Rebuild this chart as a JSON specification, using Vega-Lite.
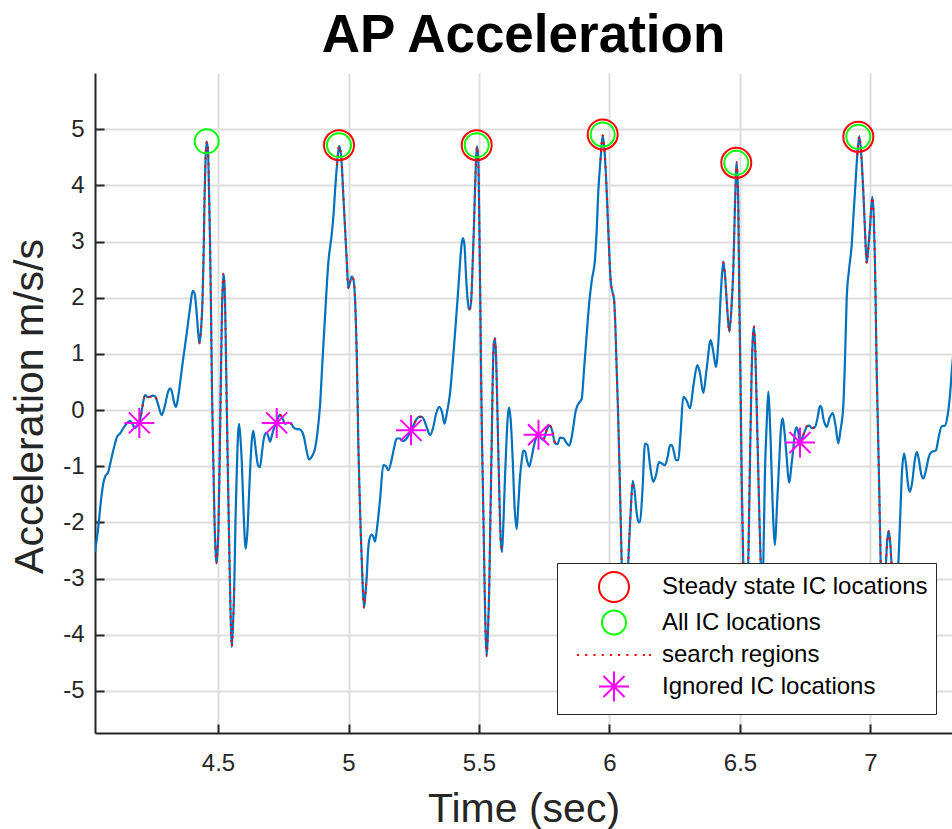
{
"$schema":"https://vega.github.io/schema/vega-lite/v6.json",
"width":857,"height":660,
"autosize":{"type":"none"},
"padding":{"left":95,"top":73,"right":0,"bottom":96},
"background":"white",
"title":{"text":"AP Acceleration","font":"Liberation Sans","fontSize":53,"fontWeight":"bold","color":"#000000","anchor":"middle","baseline":"alphabetic","offset":10,"dy":42},
"datasets":{
"signal":[
{"t":4.0287,"a":-2.525},{"t":4.0414,"a":-2.080},{"t":4.0517,"a":-1.605},{"t":4.0605,"a":-1.308},{"t":4.0670,"a":-1.190},{"t":4.0797,"a":-1.101},{"t":4.0900,"a":-0.893},{"t":4.1054,"a":-0.596},{"t":4.1130,"a":-0.478},{"t":4.1245,"a":-0.417},{"t":4.1398,"a":-0.305},{"t":4.1502,"a":-0.239},{"t":4.1628,"a":-0.193},{"t":4.1743,"a":-0.270},{"t":4.1820,"a":-0.323},{"t":4.1916,"a":-0.270},
{"t":4.1985,"a":-0.215,"s":"a1"},{"t":4.2050,"a":-0.092,"s":"a1"},{"t":4.2126,"a":0.122,"s":"a1"},{"t":4.2203,"a":0.264,"s":"a1"},{"t":4.2318,"a":0.229,"s":"a1"},{"t":4.2395,"a":0.234,"s":"a1"},{"t":4.2510,"a":0.255,"s":"a1"},{"t":4.2586,"a":0.247,"s":"a1"},{"t":4.2701,"a":0.104,"s":"a1"},
{"t":4.2843,"a":-0.092},{"t":4.2969,"a":0.086},{"t":4.3084,"a":0.318},{"t":4.3161,"a":0.384},{"t":4.3238,"a":0.318},{"t":4.3314,"a":0.140},{"t":4.3391,"a":0.056},{"t":4.3467,"a":0.211},{"t":4.3544,"a":0.473},{"t":4.3659,"a":0.887},{"t":4.3801,"a":1.363},{"t":4.3927,"a":1.813},{"t":4.4031,"a":2.121},{"t":4.4100,"a":2.080},{"t":4.4157,"a":1.867},{"t":4.4234,"a":1.422},
{"t":4.4284,"a":1.185,"s":"b1"},{"t":4.4349,"a":1.422,"s":"b1"},{"t":4.4406,"a":1.956,"s":"b1"},{"t":4.4444,"a":2.668,"s":"b1"},{"t":4.4483,"a":3.736,"s":"b1"},{"t":4.4521,"a":4.448,"s":"b1"},{"t":4.4567,"a":4.779,"s":"b1"},{"t":4.4617,"a":4.626,"s":"b1"},{"t":4.4655,"a":3.914,"s":"b1"},{"t":4.4693,"a":3.024,"s":"b1"},{"t":4.4732,"a":1.778,"s":"b1"},{"t":4.4770,"a":0.353,"s":"b1"},{"t":4.4820,"a":-0.893,"s":"b1"},{"t":4.4866,"a":-1.961,"s":"b1"},{"t":4.4904,"a":-2.495,"s":"b1"},{"t":4.4935,"a":-2.727,"s":"b1"},{"t":4.4973,"a":-2.584,"s":"b1"},{"t":4.5019,"a":-2.050,"s":"b1"},{"t":4.5057,"a":-1.071,"s":"b1"},{"t":4.5115,"a":0.709,"s":"b1"},{"t":4.5153,"a":1.778,"s":"b1"},{"t":4.5203,"a":2.426,"s":"b1"},{"t":4.5238,"a":2.312,"s":"b1"},{"t":4.5276,"a":1.778,"s":"b1"},{"t":4.5326,"a":0.353,"s":"b1"},{"t":4.5383,"a":-1.249,"s":"b1"},{"t":4.5433,"a":-2.495,"s":"b1"},{"t":4.5479,"a":-3.563,"s":"b1"},{"t":4.5525,"a":-4.218,"s":"b1"},{"t":4.5575,"a":-3.830,"s":"b1"},{"t":4.5625,"a":-3.100,"s":"b1"},
{"t":4.5670,"a":-1.961},{"t":4.5716,"a":-1.160},{"t":4.5766,"a":-0.448},{"t":4.5805,"a":-0.245},{"t":4.5851,"a":-0.448},{"t":4.5908,"a":-0.880},{"t":4.5977,"a":-1.783},{"t":4.6061,"a":-2.470},{"t":4.6130,"a":-2.139},{"t":4.6188,"a":-1.516},{"t":4.6245,"a":-0.928},{"t":4.6303,"a":-0.501},{"t":4.6352,"a":-0.371},{"t":4.6418,"a":-0.590},{"t":4.6475,"a":-0.822},{"t":4.6533,"a":-0.982},{"t":4.6609,"a":-1.017},{"t":4.6686,"a":-0.750},{"t":4.6736,"a":-0.562},{"t":4.6801,"a":-0.430},{"t":4.6866,"a":-0.403},{"t":4.6935,"a":-0.483},{"t":4.6992,"a":-0.562},{"t":4.7069,"a":-0.448},{"t":4.7157,"a":-0.305},
{"t":4.7249,"a":-0.216,"s":"a2"},{"t":4.7299,"a":-0.145,"s":"a2"},{"t":4.7375,"a":-0.085,"s":"a2"},{"t":4.7471,"a":-0.145,"s":"a2"},{"t":4.7567,"a":-0.245,"s":"a2"},{"t":4.7682,"a":-0.225,"s":"a2"},{"t":4.7824,"a":-0.252,"s":"a2"},{"t":4.7885,"a":-0.305,"s":"a2"},
{"t":4.8015,"a":-0.339},{"t":4.8103,"a":-0.341},{"t":4.8207,"a":-0.377},{"t":4.8295,"a":-0.483},{"t":4.8391,"a":-0.715},{"t":4.8487,"a":-0.880},{"t":4.8602,"a":-0.822},{"t":4.8716,"a":-0.690},{"t":4.8812,"a":-0.394},{"t":4.8908,"a":0.074},{"t":4.9004,"a":0.887},{"t":4.9100,"a":1.664},{"t":4.9226,"a":2.616},{"t":4.9356,"a":3.125},{"t":4.9425,"a":3.469},{"t":4.9483,"a":3.889},
{"t":4.9559,"a":4.359,"s":"b2"},{"t":4.9636,"a":4.700,"s":"b2"},{"t":4.9686,"a":4.626,"s":"b2"},{"t":4.9739,"a":4.396,"s":"b2"},{"t":4.9801,"a":3.825,"s":"b2"},{"t":4.9866,"a":3.255,"s":"b2"},{"t":4.9931,"a":2.668,"s":"b2"},{"t":4.9992,"a":2.171,"s":"b2"},{"t":5.0057,"a":2.276,"s":"b2"},{"t":5.0123,"a":2.376,"s":"b2"},{"t":5.0172,"a":2.347,"s":"b2"},{"t":5.0222,"a":2.205,"s":"b2"},{"t":5.0268,"a":1.778,"s":"b2"},{"t":5.0314,"a":1.030,"s":"b2"},{"t":5.0345,"a":0.264,"s":"b2"},{"t":5.0375,"a":-0.562,"s":"b2"},{"t":5.0421,"a":-1.427,"s":"b2"},{"t":5.0467,"a":-2.151,"s":"b2"},{"t":5.0529,"a":-2.940,"s":"b2"},{"t":5.0594,"a":-3.519,"s":"b2"},{"t":5.0644,"a":-3.296,"s":"b2"},{"t":5.0697,"a":-2.976,"s":"b2"},
{"t":5.0747,"a":-2.531},{"t":5.0797,"a":-2.310},{"t":5.0889,"a":-2.216},{"t":5.0958,"a":-2.264},{"t":5.1015,"a":-2.342},{"t":5.1092,"a":-2.103},{"t":5.1207,"a":-1.605},{"t":5.1333,"a":-0.982},{"t":5.1437,"a":-1.000},{"t":5.1525,"a":-1.071},{"t":5.1648,"a":-0.893},{"t":5.1743,"a":-0.679},{"t":5.1847,"a":-0.507},{"t":5.1973,"a":-0.507},{"t":5.2088,"a":-0.555},{"t":5.2165,"a":-0.537},{"t":5.2261,"a":-0.483},
{"t":5.2395,"a":-0.360,"s":"a3"},{"t":5.2471,"a":-0.288,"s":"a3"},{"t":5.2586,"a":-0.181,"s":"a3"},{"t":5.2701,"a":-0.122,"s":"a3"},{"t":5.2805,"a":-0.122,"s":"a3"},{"t":5.2893,"a":-0.172,"s":"a3"},
{"t":5.3008,"a":-0.323},{"t":5.3123,"a":-0.448},{"t":5.3238,"a":-0.323},{"t":5.3352,"a":-0.074},{"t":5.3479,"a":0.056},{"t":5.3582,"a":-0.038},{"t":5.3678,"a":-0.243},{"t":5.3774,"a":-0.038},{"t":5.3889,"a":0.295},{"t":5.3985,"a":0.798},{"t":5.4080,"a":1.363},{"t":5.4176,"a":1.956},{"t":5.4272,"a":2.609},{"t":5.4330,"a":2.935},{"t":5.4387,"a":3.059},{"t":5.4444,"a":2.935},{"t":5.4502,"a":2.401},{"t":5.4559,"a":1.991},{"t":5.4617,"a":1.795},
{"t":5.4655,"a":1.790,"s":"b3"},{"t":5.4713,"a":2.045,"s":"b3"},{"t":5.4759,"a":2.632,"s":"b3"},{"t":5.4801,"a":3.202,"s":"b3"},{"t":5.4847,"a":3.914,"s":"b3"},{"t":5.4885,"a":4.448,"s":"b3"},{"t":5.4923,"a":4.700,"s":"b3"},{"t":5.4973,"a":4.448,"s":"b3"},{"t":5.5011,"a":3.380,"s":"b3"},{"t":5.5050,"a":1.956,"s":"b3"},{"t":5.5084,"a":0.531,"s":"b3"},{"t":5.5115,"a":-0.537,"s":"b3"},{"t":5.5165,"a":-1.783,"s":"b3"},{"t":5.5211,"a":-3.029,"s":"b3"},{"t":5.5249,"a":-3.919,"s":"b3"},{"t":5.5295,"a":-4.377,"s":"b3"},{"t":5.5345,"a":-3.919,"s":"b3"},{"t":5.5395,"a":-3.100,"s":"b3"},{"t":5.5441,"a":-1.783,"s":"b3"},{"t":5.5487,"a":-0.555,"s":"b3"},{"t":5.5525,"a":0.531,"s":"b3"},{"t":5.5563,"a":1.155,"s":"b3"},{"t":5.5613,"a":1.281,"s":"b3"},{"t":5.5659,"a":0.887,"s":"b3"},{"t":5.5701,"a":0.074,"s":"b3"},{"t":5.5747,"a":-0.893,"s":"b3"},{"t":5.5785,"a":-1.605,"s":"b3"},{"t":5.5831,"a":-2.317,"s":"b3"},{"t":5.5881,"a":-2.531,"s":"b3"},
{"t":5.5939,"a":-1.961},{"t":5.5996,"a":-1.195},{"t":5.6054,"a":-0.537},{"t":5.6111,"a":-0.074},{"t":5.6161,"a":0.042},{"t":5.6215,"a":-0.181},{"t":5.6291,"a":-0.880},{"t":5.6360,"a":-1.694},{"t":5.6444,"a":-2.119},{"t":5.6506,"a":-1.694},{"t":5.6571,"a":-1.195},{"t":5.6648,"a":-0.857},{"t":5.6697,"a":-0.722},{"t":5.6762,"a":-0.733},{"t":5.6839,"a":-0.893},{"t":5.6927,"a":-1.007},{"t":5.7011,"a":-0.857},{"t":5.7080,"a":-0.690},{"t":5.7184,"a":-0.501},
{"t":5.7280,"a":-0.430,"s":"a4"},{"t":5.7375,"a":-0.501,"s":"a4"},{"t":5.7463,"a":-0.530,"s":"a4"},{"t":5.7567,"a":-0.394,"s":"a4"},{"t":5.7663,"a":-0.288,"s":"a4"},{"t":5.7720,"a":-0.277,"s":"a4"},{"t":5.7816,"a":-0.394,"s":"a4"},{"t":5.7912,"a":-0.590,"s":"a4"},
{"t":5.8008,"a":-0.608},{"t":5.8103,"a":-0.492},{"t":5.8230,"a":-0.499},{"t":5.8333,"a":-0.572},{"t":5.8460,"a":-0.635},{"t":5.8544,"a":-0.501},{"t":5.8613,"a":-0.305},{"t":5.8697,"a":-0.038},{"t":5.8766,"a":0.074},{"t":5.8851,"a":0.140},{"t":5.8935,"a":0.200},{"t":5.9023,"a":0.709},{"t":5.9126,"a":1.345},{"t":5.9215,"a":1.867},{"t":5.9318,"a":2.299},{"t":5.9444,"a":2.680},{"t":5.9510,"a":3.202},{"t":5.9571,"a":3.889},
{"t":5.9655,"a":4.448,"s":"b4"},{"t":5.9739,"a":4.890,"s":"b4"},{"t":5.9808,"a":4.626,"s":"b4"},{"t":5.9893,"a":3.889,"s":"b4"},{"t":5.9969,"a":3.024,"s":"b4"},{"t":6.0046,"a":2.299,"s":"b4"},{"t":6.0115,"a":2.098,"s":"b4"},{"t":6.0172,"a":1.981,"s":"b4"},{"t":6.0230,"a":1.422,"s":"b4"},{"t":6.0276,"a":0.709,"s":"b4"},{"t":6.0326,"a":-0.003,"s":"b4"},{"t":6.0375,"a":-0.880,"s":"b4"},{"t":6.0421,"a":-1.783,"s":"b4"},{"t":6.0467,"a":-2.725,"s":"b4"},{"t":6.0517,"a":-3.563,"s":"b4"},{"t":6.0594,"a":-4.204,"s":"b4"},{"t":6.0670,"a":-3.563,"s":"b4"},{"t":6.0720,"a":-2.725,"s":"b4"},{"t":6.0805,"a":-1.872,"s":"b4"},{"t":6.0889,"a":-1.261,"s":"b4"},
{"t":6.0958,"a":-1.427},{"t":6.1042,"a":-1.835},{"t":6.1111,"a":-1.997},{"t":6.1169,"a":-1.993},{"t":6.1264,"a":-1.427},{"t":6.1360,"a":-0.596},{"t":6.1456,"a":-0.626},{"t":6.1552,"a":-0.982},{"t":6.1678,"a":-1.279},{"t":6.1782,"a":-1.160},{"t":6.1897,"a":-0.928},{"t":6.2000,"a":-0.952},{"t":6.2126,"a":-0.982},{"t":6.2241,"a":-0.804},{"t":6.2318,"a":-0.626},{"t":6.2383,"a":-0.626},{"t":6.2471,"a":-0.750},{"t":6.2548,"a":-0.893},{"t":6.2636,"a":-0.893},{"t":6.2720,"a":-0.448},{"t":6.2828,"a":0.234},{"t":6.2950,"a":0.175},{"t":6.3084,"a":0.028},{"t":6.3218,"a":0.442},{"t":6.3364,"a":0.798},{"t":6.3467,"a":0.656},{"t":6.3594,"a":0.300},{"t":6.3716,"a":0.709},{"t":6.3877,"a":1.244},{"t":6.3966,"a":1.066},{"t":6.4080,"a":0.768},{"t":6.4176,"a":1.244},{"t":6.4272,"a":2.134},
{"t":6.4360,"a":2.641,"s":"b5"},{"t":6.4425,"a":2.401,"s":"b5"},{"t":6.4502,"a":1.867,"s":"b5"},{"t":6.4590,"a":1.391,"s":"b5"},{"t":6.4667,"a":1.778,"s":"b5"},{"t":6.4743,"a":2.490,"s":"b5"},{"t":6.4808,"a":3.647,"s":"b5"},{"t":6.4874,"a":4.412,"s":"b5"},{"t":6.4931,"a":3.736,"s":"b5"},{"t":6.4973,"a":1.981,"s":"b5"},{"t":6.5019,"a":0.531,"s":"b5"},{"t":6.5065,"a":-1.195,"s":"b5"},{"t":6.5126,"a":-2.725,"s":"b5"},{"t":6.5211,"a":-4.311,"s":"b5"},{"t":6.5318,"a":-2.725,"s":"b5"},{"t":6.5383,"a":-0.893,"s":"b5"},{"t":6.5448,"a":0.709,"s":"b5"},{"t":6.5498,"a":1.333,"s":"b5"},{"t":6.5536,"a":1.486,"s":"b5"},{"t":6.5586,"a":1.066,"s":"b5"},{"t":6.5640,"a":0.074,"s":"b5"},{"t":6.5690,"a":-0.893,"s":"b5"},{"t":6.5739,"a":-1.835,"s":"b5"},{"t":6.5793,"a":-2.725,"s":"b5"},{"t":6.5843,"a":-3.403,"s":"b5"},{"t":6.5893,"a":-2.725,"s":"b5"},
{"t":6.5958,"a":-1.071},{"t":6.6023,"a":-0.245},{"t":6.6084,"a":0.328},{"t":6.6130,"a":-0.003},{"t":6.6176,"a":-0.562},{"t":6.6245,"a":-1.605},{"t":6.6341,"a":-2.406},{"t":6.6418,"a":-1.694},{"t":6.6506,"a":-0.880},{"t":6.6571,"a":-0.323},{"t":6.6636,"a":-0.149},{"t":6.6697,"a":-0.359},{"t":6.6762,"a":-0.690},{"t":6.6889,"a":-1.293},{"t":6.6973,"a":-0.982},{"t":6.7042,"a":-0.690},{"t":6.7107,"a":-0.394},{"t":6.7172,"a":-0.307},{"t":6.7234,"a":-0.394},
{"t":6.7299,"a":-0.572,"s":"a5"},{"t":6.7395,"a":-0.483,"s":"a5"},{"t":6.7490,"a":-0.371,"s":"a5"},{"t":6.7567,"a":-0.288,"s":"a5"},{"t":6.7655,"a":-0.277,"s":"a5"},{"t":6.7759,"a":-0.323,"s":"a5"},{"t":6.7874,"a":-0.305,"s":"a5"},
{"t":6.7969,"a":-0.145},{"t":6.8065,"a":0.074},{"t":6.8130,"a":0.033},{"t":6.8192,"a":-0.149},{"t":6.8257,"a":-0.252},{"t":6.8322,"a":-0.305},{"t":6.8429,"a":-0.145},{"t":6.8552,"a":-0.054},{"t":6.8659,"a":-0.270},{"t":6.8767,"a":-0.594},{"t":6.8851,"a":-0.359},{"t":6.8958,"a":0.074},{"t":6.9023,"a":0.887},{"t":6.9088,"a":1.981},{"t":6.9176,"a":2.490},{"t":6.9280,"a":2.935},{"t":6.9349,"a":3.469},{"t":6.9406,"a":3.889},
{"t":6.9494,"a":4.537,"s":"b6"},{"t":6.9571,"a":4.875,"s":"b6"},{"t":6.9648,"a":4.537,"s":"b6"},{"t":6.9724,"a":3.889,"s":"b6"},{"t":6.9789,"a":3.202,"s":"b6"},{"t":6.9854,"a":2.616,"s":"b6"},{"t":6.9916,"a":2.881,"s":"b6"},{"t":6.9981,"a":3.255,"s":"b6"},{"t":7.0069,"a":3.793,"s":"b6"},{"t":7.0123,"a":3.469,"s":"b6"},{"t":7.0172,"a":2.616,"s":"b6"},{"t":7.0238,"a":0.709,"s":"b6"},{"t":7.0287,"a":-0.359,"s":"b6"},{"t":7.0326,"a":-1.195,"s":"b6"},{"t":7.0391,"a":-2.725,"s":"b6"},{"t":7.0490,"a":-4.275,"s":"b6"},{"t":7.0594,"a":-2.725,"s":"b6"},{"t":7.0644,"a":-2.317,"s":"b6"},{"t":7.0697,"a":-2.157,"s":"b6"},{"t":7.0747,"a":-2.317,"s":"b6"},{"t":7.0805,"a":-2.725,"s":"b6"},{"t":7.0920,"a":-3.741,"s":"b6"},
{"t":7.1069,"a":-2.725},{"t":7.1134,"a":-1.961},{"t":7.1211,"a":-1.071},{"t":7.1287,"a":-0.774},{"t":7.1364,"a":-0.982},{"t":7.1441,"a":-1.338},{"t":7.1513,"a":-1.457},{"t":7.1609,"a":-1.249},{"t":7.1686,"a":-0.928},{"t":7.1770,"a":-0.745},{"t":7.1858,"a":-0.893},{"t":7.1935,"a":-1.124},{"t":7.2023,"a":-1.219},{"t":7.2126,"a":-1.071},{"t":7.2222,"a":-0.857},{"t":7.2345,"a":-0.745},{"t":7.2433,"a":-0.733},{"t":7.2510,"a":-0.715},{"t":7.2605,"a":-0.501},{"t":7.2728,"a":-0.288},{"t":7.2854,"a":-0.279},{"t":7.2950,"a":-0.109},{"t":7.3046,"a":0.264},{"t":7.3123,"a":0.740},{"t":7.3238,"a":1.300}
],
"ic":[
{"t":4.9636,"a":4.715,"kind":"Steady state IC locations"},
{"t":5.4912,"a":4.715,"kind":"Steady state IC locations"},
{"t":5.9739,"a":4.906,"kind":"Steady state IC locations"},
{"t":6.4858,"a":4.400,"kind":"Steady state IC locations"},
{"t":6.9533,"a":4.863,"kind":"Steady state IC locations"},
{"t":4.4567,"a":4.783,"kind":"All IC locations"},
{"t":4.9636,"a":4.715,"kind":"All IC locations"},
{"t":5.4912,"a":4.715,"kind":"All IC locations"},
{"t":5.9739,"a":4.906,"kind":"All IC locations"},
{"t":6.4858,"a":4.400,"kind":"All IC locations"},
{"t":6.9533,"a":4.863,"kind":"All IC locations"},
{"t":4.1985,"a":-0.229,"kind":"Ignored IC locations"},
{"t":4.7249,"a":-0.229,"kind":"Ignored IC locations"},
{"t":5.2395,"a":-0.362,"kind":"Ignored IC locations"},
{"t":5.7280,"a":-0.439,"kind":"Ignored IC locations"},
{"t":6.7299,"a":-0.578,"kind":"Ignored IC locations"}
]
},
"encoding":{
"x":{"field":"t","type":"quantitative","scale":{"domain":[4.0287,7.3123],"nice":false,"zero":false},
"axis":{"values":[4.5,5,5.5,6,6.5,7],"labelExpr":"'' + datum.value","title":"Time (sec)","titleY":88,"titleBaseline":"alphabetic","labelPadding":27,"tickSize":-9}},
"y":{"field":"a","type":"quantitative","scale":{"domain":[-5.75,6],"nice":false,"zero":false},
"axis":{"values":[-5,-4,-3,-2,-1,0,1,2,3,4,5],"labelExpr":"'' + datum.value","title":"Acceleration m/s/s","titleX":-53,"titleY":333,"titleBaseline":"alphabetic","labelPadding":20,"tickSize":-9}}
},
"layer":[
{"data":{"name":"signal"},"mark":{"type":"line","color":"#0072BD","strokeWidth":2.2,"interpolate":"monotone","clip":true}},
{"data":{"name":"signal"},"transform":[{"filter":"isValid(datum.s)"}],
"mark":{"type":"line","color":"#FF0000","strokeWidth":2,"strokeDash":[2,6],"interpolate":"monotone","clip":true},
"encoding":{"detail":{"field":"s","type":"nominal"}}},
{"data":{"name":"ic"},"mark":{"type":"point","filled":false,"size":900,"strokeWidth":2,"opacity":1,"clip":true},
"encoding":{
"color":{"field":"kind","type":"nominal",
"scale":{"domain":["Steady state IC locations","All IC locations","search regions","Ignored IC locations"],"range":["#FF0000","#00FF00","#FF0000","#FF00FF"]},
"legend":{"title":null,"orient":"none","legendX":462,"legendY":490,"fillColor":"#FFFFFF","strokeColor":"#262626","padding":8,"symbolSize":900,"symbolOffset":33,"labelOffset":32,"rowPadding":0.5,"symbolStrokeWidth":2,"symbolFillColor":"transparent","labelFont":"Liberation Sans","labelFontSize":24,"labelColor":"#000000","labelLimit":0,"labelBaseline":"middle",
"encode":{"legend":{"update":{"strokeWidth":{"value":2}}}}}},
"shape":{"field":"kind","type":"nominal",
"scale":{"domain":["Steady state IC locations","All IC locations","search regions","Ignored IC locations"],"range":["circle","M0.8,0A0.8,0.8,0,1,1,-0.8,0A0.8,0.8,0,1,1,0.8,0Z","M-2.47,0h0.14M-1.92,0h0.14M-1.37,0h0.14M-0.82,0h0.14M-0.27,0h0.14M0.27,0h0.14M0.82,0h0.14M1.37,0h0.14M1.92,0h0.14M2.33,0h0.14","M-1,0H1M0,-1V1M-0.7,-0.7L0.7,0.7M-0.7,0.7L0.7,-0.7"]}}
}}
],
"config":{
"view":{"stroke":null},
"font":"Liberation Sans",
"axis":{"domainColor":"#262626","domainWidth":2,"tickColor":"#262626","tickWidth":2,"labelFont":"Liberation Sans","labelFontSize":24,"labelColor":"#262626","labelFlush":false,"labelOverlap":false,"titleFont":"Liberation Sans","titleFontSize":41,"titleFontWeight":"normal","titleColor":"#262626","grid":true,"gridColor":"#DEDEDE","gridWidth":2}
}
}
